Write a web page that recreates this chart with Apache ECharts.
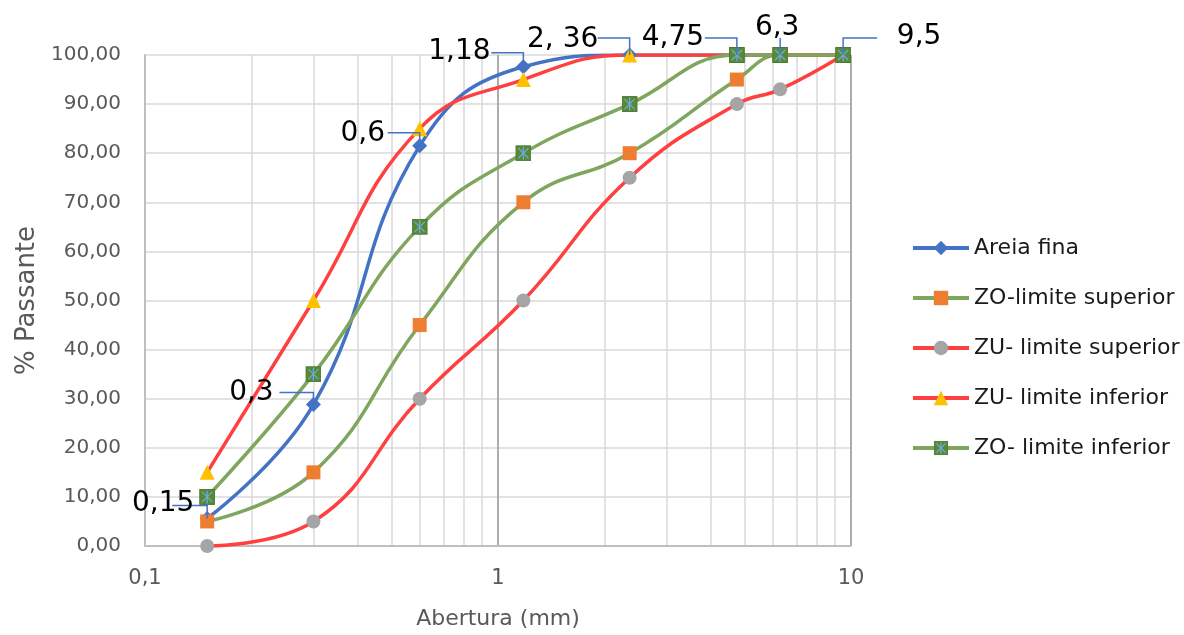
<!DOCTYPE html>
<html><head><meta charset="utf-8">
<script src="https://cdn.jsdelivr.net/npm/echarts@6/dist/echarts.min.js"></script>
<style>html,body{margin:0;padding:0;background:#fff}#c{width:1184px;height:635px}</style>
</head><body><div id="c"></div>
<script>
// ---- data ----
const sieves = [0.15, 0.3, 0.6, 1.18, 2.36, 4.75, 6.3, 9.5];
const sieveLabels = ['0,15', '0,3', '0,6', '1,18', '2, 36', '4,75', '6,3', '9,5'];
const areiaFina = [5.6, 28.8, 81.5, 97.6, 100, 100, 100, 100];
const zoSuperior = [5, 15, 45, 70, 80, 95, 100, 100];
const zuSuperior = [0, 5, 30, 50, 75, 90, 93, 100];
const zuInferior = [15, 50, 85, 95, 100, 100, 100, 100];
const zoInferior = [10, 35, 65, 80, 90, 100, 100, 100];
const seriesNames = ['Areia fina', 'ZO-limite superior', 'ZU- limite superior', 'ZU- limite inferior', 'ZO- limite inferior'];
const minorTicks = [0.2, 0.3, 0.4, 0.5, 0.6, 0.7, 0.8, 0.9, 2, 3, 4, 5, 6, 7, 8, 9];

// label placement (text offset and leader line, relative to point)
const labelPlace = [
  {tx: -44, ty: -15, ly: -13, lx: -35},
  {tx: -62, ty: -12, ly: -12, lx: -34},
  {tx: -57, ty: -12, ly: -13, lx: -32},
  {tx: -64, ty: -15, ly: -14, lx: -32},
  {tx: -67, ty: -15, ly: -17, lx: -32},
  {tx: -64, ty: -17, ly: -17, lx: -32},
  {tx: -3, ty: -27, ly: -17, lx: 0},
  {tx: 76, ty: -18, ly: -17, lx: 34}
];

const FONT = 'DejaVu Sans';
const pairs = arr => sieves.map((x, i) => [x, arr[i]]);

const starSvg = "<svg xmlns='http://www.w3.org/2000/svg' width='16' height='16'><rect x='0.5' y='0.5' width='15' height='15' fill='#568A36' stroke='#4B7A2E'/><path d='M3 3L13 13M13 3L3 13M8 1.5V14.5' stroke='#6FA8DC' stroke-width='1.3'/></svg>";
const starSymbol = 'image://data:image/svg+xml;charset=utf-8,' + encodeURIComponent(starSvg);

const chart = echarts.init(document.getElementById('c'), null, {renderer: 'canvas'});

const baseLine = (name, data, color, symbol, symColor, size) => ({
  name, type: 'line', data: pairs(data), smooth: 0.45,
  lineStyle: {color, width: 3.5},
  itemStyle: {color: symColor, borderWidth: 0},
  symbol, symbolSize: size, showAllSymbol: true,
  emphasis: {disabled: true}
});

const s1 = baseLine(seriesNames[0], areiaFina, '#4472C4', 'diamond', '#4472C4', 15);
const s2 = baseLine(seriesNames[1], zoSuperior, '#7EA65E', 'rect', '#ED7D31', 14);
const s3 = baseLine(seriesNames[2], zuSuperior, '#FF4040', 'circle', '#A5A5A5', 14);
const s4 = baseLine(seriesNames[3], zuInferior, '#FF4040', 'triangle', '#FFC000', 15);
const s5 = baseLine(seriesNames[4], zoInferior, '#7EA65E', starSymbol, '#568A36', 16);
s1.markLine = {
  silent: true, symbol: ['none', 'none'], label: {show: false},
  lineStyle: {color: '#D9D9D9', width: 1.5, type: 'solid'},
  data: minorTicks.map(v => ({xAxis: v})), z: 0, animation: false
};
s1.z = 3;

chart.setOption({
  animation: false,
  backgroundColor: '#fff',
  grid: {left: 145, right: 333, top: 55, bottom: 88, containLabel: false},
  legend: {
    orient: 'vertical', left: 906, top: 229, itemWidth: 56, itemHeight: 18, itemGap: 22,
    lineStyle: {width: 4},
    textStyle: {fontFamily: FONT, fontSize: 22, color: '#1a1a1a', lineHeight: 28},
    data: seriesNames
  },
  xAxis: {
    type: 'log', logBase: 10, min: 0.1, max: 10,
    name: 'Abertura (mm)', nameLocation: 'middle', nameGap: 62,
    nameTextStyle: {fontFamily: FONT, fontSize: 22, color: '#595959'},
    axisLine: {show: true, lineStyle: {color: '#BFBFBF', width: 2}},
    axisTick: {show: false},
    axisLabel: {fontFamily: FONT, fontSize: 21, color: '#595959', margin: 22,
      formatter: v => String(+v.toPrecision(6)).replace('.', ',')},
    splitLine: {show: true, lineStyle: {color: '#ADADAD', width: 2}}
  },
  yAxis: {
    type: 'value', min: 0, max: 100, interval: 10,
    name: '% Passante', nameLocation: 'middle', nameGap: 103,
    nameTextStyle: {fontFamily: FONT, fontSize: 26, color: '#595959'},
    axisLine: {show: true, lineStyle: {color: '#BFBFBF', width: 2}},
    axisTick: {show: false},
    axisLabel: {fontFamily: FONT, fontSize: 20, color: '#595959', margin: 24,
      formatter: v => v.toFixed(2).replace('.', ',')},
    splitLine: {show: true, lineStyle: {color: '#D9D9D9', width: 1.5}}
  },
  series: [s1, s2, s3, s4, s5]
});

// data labels for "Areia fina" with leader lines
const g = [];
sieves.forEach((x, i) => {
  const p = chart.convertToPixel({xAxisIndex: 0, yAxisIndex: 0}, [x, areiaFina[i]]);
  const lp = labelPlace[i];
  const pts = [[p[0], p[1]], [p[0], p[1] + lp.ly]];
  if (lp.lx !== 0) pts.push([p[0] + lp.lx, p[1] + lp.ly]);
  g.push({type: 'polyline', z: 50, shape: {points: pts}, style: {stroke: '#4472C4', lineWidth: 1.5, fill: null}});
  g.push({type: 'text', z: 51, x: p[0] + lp.tx, y: p[1] + lp.ty,
    style: {text: sieveLabels[i], font: '28px "' + FONT + '"', fill: '#000', align: 'center', verticalAlign: 'middle'}});
});
chart.setOption({graphic: g});
</script></body></html>
